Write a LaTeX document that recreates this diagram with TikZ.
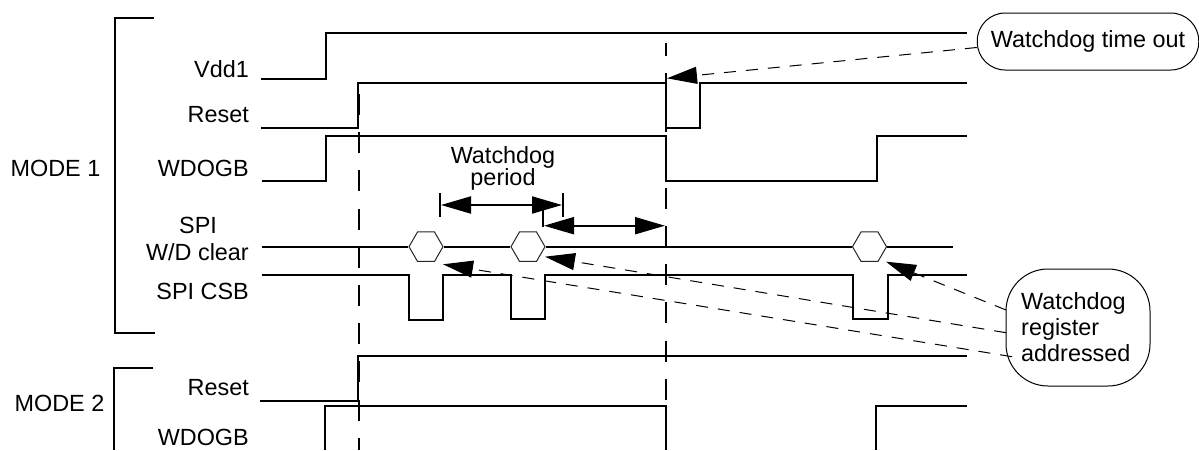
\documentclass[tikz,border=0pt]{standalone}
\usepackage{fontspec}
\setmainfont{Liberation Sans}
\usetikzlibrary{arrows.meta,shapes.geometric}
\tikzset{
  wire/.style={line width=2pt},
  guide/.style={line width=2pt, dash pattern=on 21pt off 17.2pt},
  leader/.style={line width=1pt, dash pattern=on 12pt off 10pt, -{Triangle[length=30pt,width=17pt]}},
  period/.style={line width=2pt, {Triangle[length=30pt,width=17pt]}-{Triangle[length=30pt,width=17pt]}},
  hexbox/.style={draw=black!85, line width=1pt, fill=white, regular polygon, regular polygon sides=6, minimum size=34pt, inner sep=0pt},
  callout/.style={draw, line width=1pt, fill=white, inner sep=0pt},
  lab/.style={font=\fontsize{23.4}{26}\selectfont, inner sep=0pt},
  sig/.style={lab, anchor=east}
}
\begin{document}
\begin{tikzpicture}[x=1pt,y=-1pt]
  \useasboundingbox (0,0) rectangle (1199,450);
  \def\wend{967}
  % mode brackets
  \draw[wire] (154,18) -- (115,18) -- (115,332.5) -- (155,332.5);
  \draw[wire] (153,368) -- (114,368) -- (114,450);
  % guides
  \draw[guide] (359,94) -- (359,450);
  \draw[guide, dash phase=8pt] (666,43) -- (666,450);
  % signals
  \draw[wire] (261,79) -- (326,79) -- (326,33) -- (\wend,33);
  \draw[wire] (261,127.7) -- (358,127.7) -- (358,82.7) -- (666,82.7) -- (666,127.7) -- (700,127.7) -- (700,82.7) -- (\wend,82.7);
  \draw[wire] (262,180.7) -- (326,180.7) -- (326,135.7) -- (666,135.7) -- (666,180.7) -- (877,180.7) -- (877,135.7) -- (\wend,135.7);
  \draw[wire] (262,275) -- (409,275) -- (409,319.5) -- (443,319.5) -- (443,275) -- (511,275) -- (511,319) -- (545,319) -- (545,275) -- (853,275) -- (853,319) -- (888,319) -- (888,275) -- (\wend,275);
  \draw[wire] (260,400.7) -- (357.5,400.7) -- (357.5,356) -- (\wend,356);
  \draw[wire] (325,450) -- (325,406) -- (666,406) -- (666,450);
  \draw[wire] (876,450) -- (876,406) -- (\wend,406);
  % spi clear
  \coordinate (clrstart) at (262,246.7);
  \coordinate (clrend) at (953,246.7);
  \node[hexbox] (hexa) at (426,246.7) {};
  \node[hexbox] (hexb) at (528,246.7) {};
  \node[hexbox] (hexc) at (869.5,246.7) {};
  \draw[wire] (clrstart) -- (hexa) -- (hexb) -- (hexc) -- (clrend);
  % period marks
  \foreach \x/\a/\b/\n in {440/193/217/pa, 563/193/217/pb, 543/208/227/pc}
  {
    \coordinate (\n) at (\x,\a);
    \draw[wire] (\n) -- (\x,\b);
  }
  \coordinate (spana) at (441,205);
  \coordinate (spanb) at (562,205);
  \coordinate (spanc) at (544,225.7);
  \coordinate (spand) at (665,225.7);
  \draw[period] (spana) -- (spanb);
  \draw[period] (spanc) -- (spand);
  % signal names
  \foreach \y/\t/\n in {69/Vdd1/sa, 115/Reset/sb, 168/WDOGB/sc, 252/{W/D clear}/sd, 291/SPI CSB/se, 388/Reset/sf, 437/WDOGB/sg}
    \node[sig] (\n) at (249,\y) {\t};
  \node[lab] (spilab) at (198,225) {SPI};
  \node[lab] (modea) at (55.5,168) {MODE 1};
  \node[lab] (modeb) at (59.5,403) {MODE 2};
  \node[lab, align=center] (wdper) at (503,168) {Watchdog\\[-4pt]period};
  % callouts
  \node[callout, lab, draw, inner sep=0pt, minimum width=221.5pt, minimum height=57pt, rounded corners=28pt] (calltime) at (1088,41.5) {Watchdog time out};
  \node[callout, lab, draw, minimum width=144pt, minimum height=117pt, rounded corners=42pt] (callreg) at (1078,327.5) {};
  \node[lab, align=left, anchor=west] (regtxt) at (1021,327) {Watchdog\\register\\addressed};
  \coordinate (tiptime) at (667,78.3);
  \coordinate (tipa) at (443,264.3);
  \coordinate (tipb) at (545,256.7);
  \coordinate (tipc) at (886,261.7);
  \coordinate (fromc) at (1006,310);
  \coordinate (fromb) at (1006,332.7);
  \coordinate (froma) at (1012,356.7);
  \draw[leader] (calltime.west) ++(0,6) -- (tiptime);
  \draw[leader] (fromc) -- (tipc);
  \draw[leader] (fromb) -- (tipb);
  \draw[leader] (froma) -- (tipa);
\end{tikzpicture}
\end{document}
